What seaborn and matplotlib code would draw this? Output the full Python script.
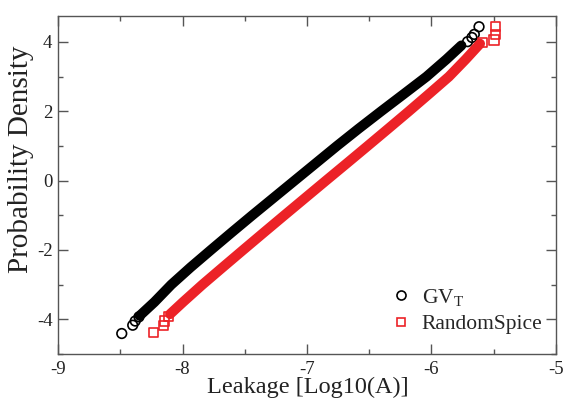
import matplotlib
matplotlib.use("Agg")
import matplotlib.pyplot as plt
from matplotlib.lines import Line2D
from matplotlib.ticker import MultipleLocator
import pandas as pd
import seaborn as sns

# ---- data (centre line of the dense marker bands) ----
gv_band_y = [-3.9, -3.5, -3.0, -2.5, -2.0, -1.5, -1.0, -0.5, 0.0, 0.5, 1.0, 1.5, 2.0, 2.5, 3.0, 3.5, 3.9]
gv_band_x = [-8.345, -8.225, -8.09, -7.935, -7.772, -7.607, -7.44, -7.27, -7.10, -6.93, -6.76, -6.585, -6.405, -6.222, -6.04, -5.88, -5.76]
rs_band_y = [-3.85, -3.5, -3.0, -2.5, -2.0, -1.5, -1.0, -0.5, 0.0, 0.5, 1.0, 1.5, 2.0, 2.5, 3.0, 3.5, 3.95]
rs_band_x = [-8.10, -7.995, -7.84, -7.677, -7.513, -7.348, -7.182, -7.015, -6.848, -6.68, -6.513, -6.347, -6.182, -6.02, -5.86, -5.725, -5.61]

# isolated tail points
gv_tail_x = [-8.488, -8.40, -8.38, -8.35, -5.71, -5.675, -5.656, -5.618]
gv_tail_y = [-4.41, -4.17, -4.05, -3.93, 4.01, 4.13, 4.22, 4.44]
rs_tail_x = [-8.234, -8.154, -8.146, -8.114, -5.592, -5.498, -5.484, -5.484]
rs_tail_y = [-4.38, -4.19, -4.05, -3.92, 3.99, 4.06, 4.22, 4.44]

series_names = ["GV$_{\\mathrm{T}}$", "RandomSpice"]
x_ticks = [-9, -8, -7, -6, -5]
y_ticks = [-4, -2, 0, 2, 4]

BLACK = "#000000"
RED = "#ec2227"

sns.set_theme(style="ticks")
plt.rcParams["font.family"] = ["Liberation Serif", "DejaVu Serif"]
plt.rcParams["mathtext.fontset"] = "custom"
plt.rcParams["mathtext.rm"] = "Liberation Serif"
plt.rcParams["mathtext.it"] = "Liberation Serif:italic"

band_df = pd.concat([
    pd.DataFrame({"x": gv_band_x, "y": gv_band_y, "s": series_names[0]}),
    pd.DataFrame({"x": rs_band_x, "y": rs_band_y, "s": series_names[1]}),
])
gv_tail = pd.DataFrame({"x": gv_tail_x, "y": gv_tail_y})
rs_tail = pd.DataFrame({"x": rs_tail_x, "y": rs_tail_y})

fig = plt.figure(figsize=(5.65, 4.05), dpi=100)
ax = fig.add_axes([0.1027, 0.126, 0.8813, 0.8345])

sns.lineplot(data=band_df, x="x", y="y", hue="s", palette=[BLACK, RED],
             estimator=None, sort=False, linewidth=7.2, legend=False, ax=ax,
             solid_capstyle="round")
sns.scatterplot(data=gv_tail, x="x", y="y", marker="o", s=48, facecolors="none",
                edgecolor=BLACK, linewidth=1.2, ax=ax, legend=False)
sns.scatterplot(data=rs_tail, x="x", y="y", marker="s", s=44, facecolors="none",
                edgecolor=RED, linewidth=1.2, ax=ax, legend=False)
for c in ax.collections:
    c.set_facecolor("none")

ax.set_xlim(-9, -5)
ax.set_ylim(-5, 4.75)
ax.set_xticks(x_ticks)
ax.set_yticks(y_ticks)
ax.set_xticklabels([str(t) for t in x_ticks])
ax.set_yticklabels([str(t) for t in y_ticks])
ax.xaxis.set_minor_locator(MultipleLocator(0.5))
ax.yaxis.set_minor_locator(MultipleLocator(1))
ax.tick_params(which="both", direction="in", top=True, right=True, color="#555555",
               width=1.0, labelsize=13.5, labelcolor="#222222")
ax.tick_params(which="major", length=7)
ax.tick_params(which="minor", length=3.6)
ax.tick_params(axis="x", pad=5)
ax.tick_params(axis="y", pad=4)
for sp in ax.spines.values():
    sp.set_color("#555555")
    sp.set_linewidth(1.0)

ax.set_xlabel("Leakage [Log10(A)]", fontsize=17.5, color="#222222")
ax.set_ylabel("Probability Density", fontsize=21, color="#222222")
ax.xaxis.set_label_coords(0.502, -0.068)
ax.yaxis.set_label_coords(-0.048, 0.577)

handles = [
    Line2D([], [], linestyle="none", marker="o", markersize=6.5, markerfacecolor="none",
           markeredgecolor=BLACK, markeredgewidth=1.2),
    Line2D([], [], linestyle="none", marker="s", markersize=6, markerfacecolor="none",
           markeredgecolor=RED, markeredgewidth=1.2),
]
ax.legend(handles, series_names, loc="lower right", bbox_to_anchor=(0.99, 0.033),
          frameon=False, fontsize=15.5, handlelength=1.0, handletextpad=0.45,
          labelspacing=0.29, borderaxespad=0.0)

fig.savefig("out.png", dpi=100)
